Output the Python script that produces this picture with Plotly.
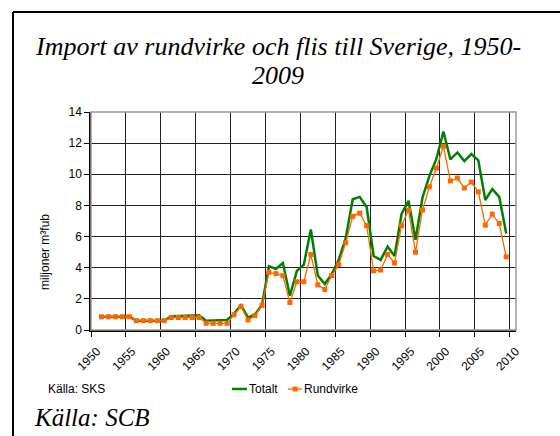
import plotly.graph_objects as go

years = list(range(1951, 2010))
totalt = [0.85, 0.85, 0.85, 0.85, 0.85,
          0.6, 0.6, 0.6, 0.6, 0.6,
          0.88, 0.9, 0.92, 0.95, 0.95,
          0.6, 0.63, 0.64, 0.65,
          1.05, 1.6, 0.8, 1.0, 1.6,
          4.1, 3.92, 4.3, 2.2, 3.8, 4.2,
          6.45, 3.5, 2.95, 3.6, 4.5, 5.9, 8.4, 8.55, 7.9, 4.75,
          4.5, 5.35, 4.75, 7.45, 8.3, 5.8, 8.5, 9.9, 11.0, 12.75,
          10.95, 11.4, 10.85, 11.3, 10.9, 8.35, 9.05, 8.55, 6.2]
rundvirke = [0.85, 0.85, 0.85, 0.85, 0.85,
             0.6, 0.6, 0.6, 0.6, 0.6,
             0.8, 0.8, 0.8, 0.8, 0.8,
             0.43, 0.43, 0.43, 0.43,
             0.98, 1.5, 0.64, 0.92, 1.58,
             3.7, 3.62, 3.49, 1.76, 3.1, 3.1,
             4.85, 2.9, 2.6, 3.5, 4.2, 5.6, 7.3, 7.5, 6.7, 3.8,
             3.85, 4.85, 4.3, 6.7, 7.7, 5.0, 7.7, 9.2, 10.4, 11.8,
             9.57, 9.76, 9.12, 9.5, 8.87, 6.73, 7.44, 6.84, 4.7]
x_ticks = list(range(1950, 2011, 5))
y_ticks = list(range(0, 15, 2))
series_names = ["Totalt", "Rundvirke"]
series_colors = ["#008000", "#FF6600"]

title_line1 = "Import av rundvirke och flis till Sverige, 1950-"
title_line2 = "2009"
source_small = "Källa: SKS"
source_big = "Källa: SCB"
y_title = "miljoner m³fub"

W, H = 560, 436
L, R, T, B = 91, 44, 112, 106
PW, PH = W - L - R, H - T - B


def px(xp):
    return (xp - L) / PW


def py(yp):
    return (H - B - yp) / PH


xs = [y + 0.5 for y in years]

fig = go.Figure()
fig.add_trace(go.Scatter(x=xs, y=totalt, mode="lines", name=series_names[0],
                         line=dict(color=series_colors[0], width=2.5)))
fig.add_trace(go.Scatter(x=xs, y=rundvirke, mode="lines+markers", name=series_names[1],
                         line=dict(color=series_colors[1], width=1.3),
                         marker=dict(symbol="square", size=5, color=series_colors[1])))

sans = "Liberation Sans, Arial"
serif = "Liberation Serif, Times New Roman"
axis_font = dict(family=sans, size=12, color="black")
fig.update_xaxes(range=[1950, 2010.9], tickvals=x_ticks, ticktext=[str(v) for v in x_ticks],
                 tickangle=-45, showgrid=True, gridcolor="#222", gridwidth=1,
                 showline=True, linecolor="black", linewidth=1.5,
                 ticks="outside", ticklen=5, tickcolor="black",
                 ticklabelshift=6, ticklabelstandoff=3,
                 tickfont=axis_font, zeroline=False, fixedrange=True)
fig.update_yaxes(range=[0, 14], tickvals=y_ticks, showgrid=True, gridcolor="#222", gridwidth=1,
                 showline=True, linecolor="black", linewidth=1.5,
                 ticks="outside", ticklen=5, tickcolor="black",
                 tickfont=axis_font, zeroline=False, fixedrange=True)

LEG_Y = 389
shapes = [
    # plot area border (grey)
    dict(type="rect", xref="paper", yref="paper", x0=0, y0=0, x1=1, y1=1,
         line=dict(color="#999", width=1.5), layer="above"),
    # outer frame: left and top edges
    dict(type="line", xref="paper", yref="paper", x0=px(13), x1=px(570), y0=py(12), y1=py(12),
         line=dict(color="black", width=2)),
    dict(type="line", xref="paper", yref="paper", x0=px(13), x1=px(13), y0=py(12), y1=py(440),
         line=dict(color="black", width=2)),
    # legend samples
    dict(type="line", xref="paper", yref="paper", x0=px(232), x1=px(247), y0=py(LEG_Y), y1=py(LEG_Y),
         line=dict(color=series_colors[0], width=2.5)),
    dict(type="line", xref="paper", yref="paper", x0=px(288), x1=px(302), y0=py(LEG_Y), y1=py(LEG_Y),
         line=dict(color=series_colors[1], width=1.3)),
    dict(type="rect", xref="paper", yref="paper", x0=px(292.5), x1=px(297.5),
         y0=py(LEG_Y + 2.5), y1=py(LEG_Y - 2.5),
         line=dict(width=0), fillcolor=series_colors[1]),
]

annotations = [
    dict(text="<i>" + title_line1 + "</i>", xref="paper", yref="paper", x=px(278), y=py(46),
         showarrow=False, font=dict(family=serif, size=26, color="black"),
         xanchor="center", yanchor="middle"),
    dict(text="<i>" + title_line2 + "</i>", xref="paper", yref="paper", x=px(278), y=py(75),
         showarrow=False, font=dict(family=serif, size=26, color="black"),
         xanchor="center", yanchor="middle"),
    dict(text="<i>" + source_big + "</i>", xref="paper", yref="paper", x=px(32), y=py(417),
         showarrow=False, font=dict(family=serif, size=25, color="black"),
         xanchor="left", yanchor="middle"),
    dict(text=source_small, xref="paper", yref="paper", x=px(46), y=py(LEG_Y),
         showarrow=False, font=dict(family=sans, size=12, color="black"),
         xanchor="left", yanchor="middle"),
    dict(text=series_names[0], xref="paper", yref="paper", x=px(247), y=py(LEG_Y),
         showarrow=False, font=dict(family=sans, size=12, color="black"),
         xanchor="left", yanchor="middle"),
    dict(text=series_names[1], xref="paper", yref="paper", x=px(302), y=py(LEG_Y),
         showarrow=False, font=dict(family=sans, size=12, color="black"),
         xanchor="left", yanchor="middle"),
    dict(text=y_title, xref="paper", yref="paper", x=px(45), y=py(252), textangle=-90,
         showarrow=False, font=dict(family=sans, size=12, color="black"),
         xanchor="center", yanchor="middle"),
]

fig.update_layout(
    width=W, height=H,
    margin=dict(l=L, r=R, t=T, b=B, autoexpand=False),
    paper_bgcolor="white", plot_bgcolor="white",
    showlegend=False,
    shapes=shapes, annotations=annotations,
)

fig.write_html("out.html", config={"displayModeBar": False},
               post_script="document.body.style.margin='0';")
